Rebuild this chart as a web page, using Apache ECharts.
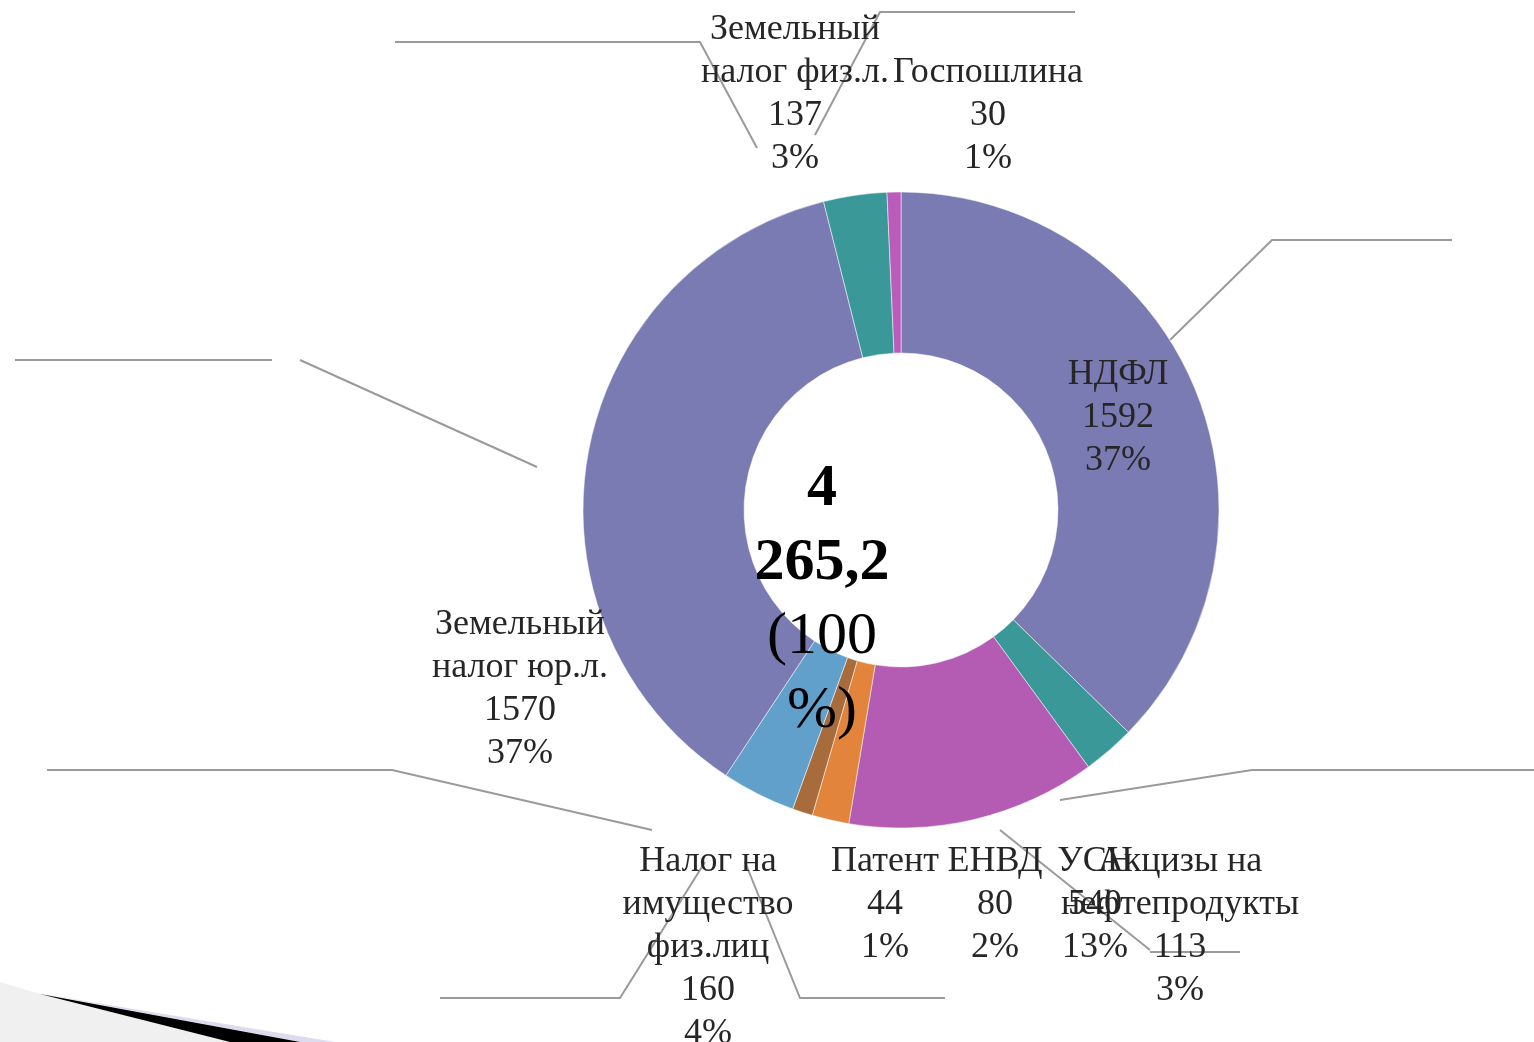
<!DOCTYPE html>
<html>
<head>
<meta charset="utf-8">
<script src="https://cdn.jsdelivr.net/npm/echarts@6/dist/echarts.min.js"></script>
<style>
  html, body { margin: 0; padding: 0; background: #fff; }
  #chart { width: 1534px; height: 1042px; }
</style>
</head>
<body>
<div id="chart"></div>
<script>
// data, clockwise from 12 o'clock
const names = [
  'НДФЛ',
  'Акцизы на\nнефтепродукты',
  'УСН',
  'ЕНВД',
  'Патент',
  'Налог на\nимущество\nфиз.лиц',
  'Земельный\nналог юр.л.',
  'Земельный\nналог физ.л.',
  'Госпошлина'
]
const values = [1592, 113, 540, 80, 44, 160, 1570, 137, 30]
const colors = ['#7b7bb3', '#3a9898', '#b45cb4', '#e2843c', '#a86c3c', '#62a0cc', '#7b7bb3', '#3a9898', '#bb5cbb']
const centerLines = ['4', '265,2', '(100', '%)']

// label anchor (center x, top y) for each slice
const labelPos = [
  [1118, 353], [1180, 840], [1095, 840], [995, 840], [885, 840],
  [708, 840], [520, 603], [795, 8], [988, 51]
]

// leftover leader lines as they appear on the slide
const leaderLines = [
  [[395, 42], [700, 42], [757, 148]],
  [[1075, 12], [880, 12], [815, 135]],
  [[1452, 240], [1272, 240], [1170, 340]],
  [[15, 360], [272, 360]],
  [[300, 360], [537, 467]],
  [[47, 770], [392, 770], [652, 830]],
  [[1534, 770], [1252, 770], [1060, 800]],
  [[440, 998], [620, 998], [705, 862]],
  [[945, 998], [800, 998], [745, 862]],
  [[1000, 830], [1150, 950]],
  [[1150, 952], [1240, 952]]
]

const chart = echarts.init(document.getElementById('chart'))

let pieData = []
for (let i = 0; i < names.length; i++) {
  pieData.push({ name: names[i], value: values[i], itemStyle: { color: colors[i] } })
}

let graphics = []
for (let i = 0; i < leaderLines.length; i++) {
  graphics.push({
    type: 'polyline',
    z: 1,
    shape: { points: leaderLines[i] },
    style: { stroke: '#9a9a9a', lineWidth: 2, fill: null }
  })
}

// center total
graphics.push({
  type: 'text',
  z: 10,
  style: {
    x: 822,
    y: 452,
    text: '{b|' + centerLines[0] + '}\n{b|' + centerLines[1] + '}\n{n|' + centerLines[2] + '}\n{n|' + centerLines[3] + '}',
    align: 'center',
    rich: {
      b: { fontFamily: 'Liberation Serif', fontWeight: 'bold', fontSize: 60, lineHeight: 74, color: '#111', align: 'center' },
      n: { fontFamily: 'Liberation Serif', fontSize: 60, lineHeight: 74, color: '#1a1a33', align: 'center' }
    }
  }
})

// slide corner decoration
graphics.push(
  { type: 'polygon', z: 0, shape: { points: [[0, 982], [40, 994], [230, 1042], [0, 1042]] }, style: { fill: '#f0f0f0' } },
  { type: 'polygon', z: 0, shape: { points: [[42, 994], [335, 1042], [300, 1042]] }, style: { fill: '#dcdcee' } },
  { type: 'polygon', z: 0, shape: { points: [[40, 994], [300, 1042], [230, 1042]] }, style: { fill: '#000' } }
)

chart.setOption({
  backgroundColor: '#fff',
  animation: false,
  graphic: graphics,
  series: [
    {
      type: 'pie',
      center: [901, 510],
      radius: [157, 318],
      startAngle: 90,
      clockwise: true,
      avoidLabelOverlap: false,
      data: pieData,
      itemStyle: { borderColor: 'rgba(255,255,255,0.5)', borderWidth: 1 },
      label: {
        show: true,
        position: 'outside',
        fontFamily: 'Liberation Serif',
        fontSize: 36,
        lineHeight: 43,
        color: '#262626',
        formatter: function (p) {
          return p.name + '\n' + p.value + '\n' + Math.round(p.percent) + '%'
        }
      },
      labelLine: { show: false },
      labelLayout: function (params) {
        const pos = labelPos[params.dataIndex]
        return { x: pos[0], y: pos[1], align: 'center', verticalAlign: 'top' }
      }
    }
  ]
})
</script>
</body>
</html>
